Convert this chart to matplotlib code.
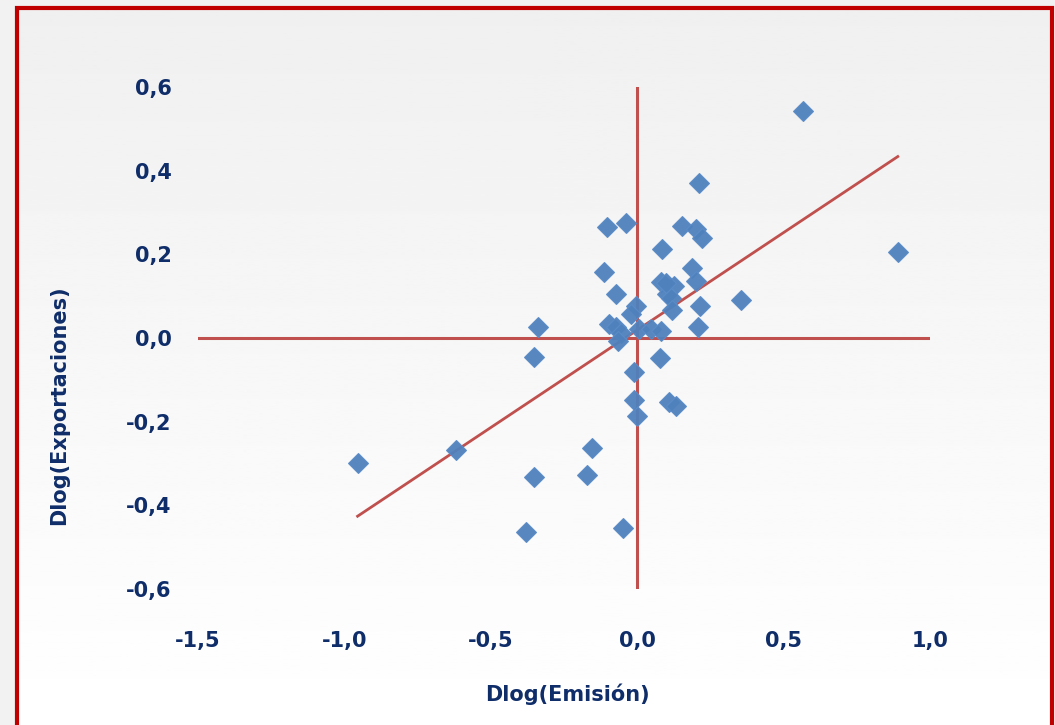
import numpy as np
import matplotlib.pyplot as plt
from matplotlib.patches import Rectangle

# Values
dlog_emision = [0.565, 0.890, 0.353, 0.212, -0.955, -0.620, -0.380, -0.353,
                -0.154, -0.171, -0.048, 0.000, -0.010, -0.010, 0.110, 0.134,
                0.079, -0.353, -0.339, -0.103, -0.038, 0.154, 0.202, 0.223,
                0.086, -0.113, 0.188, 0.202, -0.072, 0.082, 0.127, 0.103,
                0.116, 0.120, 0.215, 0.207, -0.003, -0.020, -0.096, -0.072,
                -0.055, -0.065, 0.007, 0.048, 0.082, 0.100]
dlog_export = [0.543, 0.206, 0.091, 0.371, -0.299, -0.268, -0.464, -0.333,
               -0.263, -0.328, -0.455, -0.187, -0.148, -0.081, -0.153, -0.163,
               -0.048, -0.045, 0.026, 0.266, 0.275, 0.268, 0.260, 0.239,
               0.213, 0.158, 0.167, 0.137, 0.105, 0.133, 0.125, 0.106,
               0.095, 0.067, 0.076, 0.026, 0.076, 0.058, 0.034, 0.026,
               0.012, -0.008, 0.022, 0.021, 0.017, 0.132]

# linear trend as shown in the picture
trend_slope = 0.466
trend_intercept = 0.019

x_ticks = [-1.5, -1.0, -0.5, 0.0, 0.5, 1.0]
y_ticks = [-0.6, -0.4, -0.2, 0.0, 0.2, 0.4, 0.6]

text_color = '#0F2D69'
red = '#C0504D'
blue = '#4F81BD'

plt.rcParams['font.family'] = ['DejaVu Sans']

fig = plt.figure(figsize=(10.55, 7.25), dpi=100)
fig.patch.set_facecolor('#F2F2F2')

# background gradient inside the frame
bg = fig.add_axes([0, 0, 1, 1], zorder=0)
grad = np.linspace(0.94, 1.0, 256).reshape(-1, 1)
bg.imshow(grad, aspect='auto', cmap='gray', vmin=0, vmax=1,
          extent=[17 / 1055, 1052 / 1055, 0, 1 - 8 / 725])
bg.set_xlim(0, 1)
bg.set_ylim(0, 1)
bg.axis('off')
fig.patches.append(Rectangle((17 / 1055, -0.02), 1035 / 1055, 1.02 - 8 / 725,
                             transform=fig.transFigure, fill=False,
                             edgecolor='#C00000', linewidth=3, zorder=5))

ax = fig.add_axes([198 / 1055, 136 / 725, 732 / 1055, 502 / 725], zorder=1)
ax.set_facecolor('none')

ax.axhline(0, color=red, linewidth=2.2, zorder=1)
ax.axvline(0, color=red, linewidth=2.2, zorder=1)

x = np.array(dlog_emision)
y = np.array(dlog_export)
xs = np.array([x.min(), x.max()])
ax.plot(xs, trend_intercept + trend_slope * xs, color=red, linewidth=2, zorder=2)

ax.plot(x, y, linestyle='none', marker='D', markersize=10, color=blue,
        markeredgecolor='#5B8CC8', markeredgewidth=0.8, alpha=0.95, zorder=3)

ax.set_xlim(-1.5, 1.0)
ax.set_ylim(-0.6, 0.6)
ax.set_xticks(x_ticks)
ax.set_yticks(y_ticks)
ax.set_xticklabels([f'{v:.1f}'.replace('.', ',') for v in x_ticks])
ax.set_yticklabels([f'{v:.1f}'.replace('.', ',') for v in y_ticks])
ax.tick_params(length=0, labelsize=15, labelcolor=text_color)
ax.tick_params(axis='x', pad=30)
ax.tick_params(axis='y', pad=19)
for lbl in ax.get_xticklabels() + ax.get_yticklabels():
    lbl.set_fontweight('bold')
for s in ax.spines.values():
    s.set_visible(False)

fig.text(567 / 1055, 1 - 694 / 725, 'Dlog(Emisión)', ha='center', va='center',
         fontsize=15, fontweight='bold', color=text_color)
fig.text(59 / 1055, 1 - 405 / 725, 'Dlog(Exportaciones)', ha='center', va='center',
         rotation=90, fontsize=15, fontweight='bold', color=text_color)

fig.savefig('out.png', dpi=100, facecolor=fig.get_facecolor())
